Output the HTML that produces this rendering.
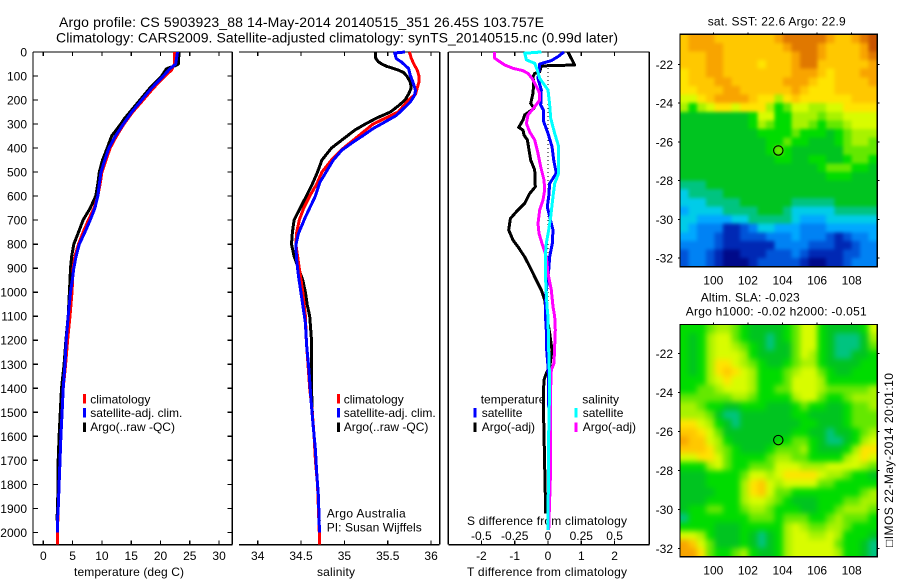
<!DOCTYPE html>
<html lang="en">
<head>
<meta charset="utf-8">
<title>Argo profile</title>
<style>
html,body{margin:0;padding:0;background:#fff;}
svg{display:block;}
text{font-family:"Liberation Sans",sans-serif;font-size:12px;fill:#000;}
.ttl{font-size:14px;}
</style>
</head>
<body>
<svg id="fig" xmlns="http://www.w3.org/2000/svg" width="900" height="580" viewBox="0 0 900 580">
<defs>
<filter id="soft-sst" x="-5%" y="-5%" width="110%" height="110%" color-interpolation-filters="sRGB">
<feGaussianBlur stdDeviation="1.8"/>
<feComponentTransfer><feFuncA type="linear" slope="60"/></feComponentTransfer>
</filter>
<filter id="soft-sla" x="-5%" y="-5%" width="110%" height="110%" color-interpolation-filters="sRGB">
<feGaussianBlur stdDeviation="3"/>
<feComponentTransfer><feFuncA type="linear" slope="60"/></feComponentTransfer>
</filter>
</defs>
<text class="ttl" x="59" y="27" textLength="485">Argo profile: CS 5903923_88 14-May-2014 20140515_351 26.45S 103.757E</text>
<text class="ttl" x="56" y="42.5" textLength="562">Climatology: CARS2009. Satellite-adjusted climatology: synTS_20140515.nc (0.99d later)</text>
<text x="74" y="576" textLength="110">temperature (deg C)</text>
<text x="317" y="576" textLength="38">salinity</text>
<text x="467" y="576" textLength="160">T difference from climatology</text>
<text x="467" y="525" textLength="160">S difference from climatology</text>
<text x="707.7" y="25.7" textLength="138">sat. SST: 22.6 Argo: 22.9</text>
<text x="700.7" y="301.7" textLength="99">Altim. SLA: -0.023</text>
<text x="685.7" y="315.7" textLength="181">Argo h1000: -0.02 h2000: -0.051</text>
<text transform="translate(893 547) rotate(-90)" x="0" y="0" textLength="174">□IMOS 22-May-2014 20:01:10</text>
<text x="326.7" y="517.7" textLength="79">Argo Australia</text>
<text x="326.7" y="531.7" textLength="95">PI: Susan Wijffels</text>
<g id="axes"></g>
<g id="marks"></g>
<g id="legends"></g>
</svg>
<script>
/* ---------- data ---------- */
const depthTicks = [0,100,200,300,400,500,600,700,800,900,1000,1100,1200,1300,1400,1500,1600,1700,1800,1900,2000];
const tempTicks = [0,5,10,15,20,25,30];
const salTicks = [34,34.5,35,35.5,36];
const salTickLabels = ['34','34.5','35','35.5','36'];
const dTTicks = [-2,-1,0,1,2];
const dSTicks = [-0.5,-0.25,0,0.25,0.5];
const dSTickLabels = ['-0.5','-0.25','0','0.25','0.5'];
const lonTicks = [100,102,104,106,108];
const latTicks = [-22,-24,-26,-28,-30,-32];

const tempBlueDepth = [0,50,70,100,150,200,250,300,350,400,450,500,550,600,650,700,750,800,850,900,950,1000,1100,1200,1300,1400,1500,1600,1700,1800,1900,1950,2000];
const tempBlue = [22.9,22.6,21.6,20.5,18.5,16.8,15.1,13.65,12.3,11.2,10.5,9.85,9.55,9.3,8.8,8.0,7.1,6.15,5.6,5.2,4.95,4.65,4.25,3.9,3.7,3.4,3.2,3.0,2.85,2.7,2.55,2.4,2.4];
const tempBlackDepth = [0,50,55,70,100,150,200,250,275,300,350,400,450,500,550,600,650,700,750,800,850,900,950,1000,1100,1200,1300,1400,1500,1600,1700,1800,1900,1950];
const tempBlack = [23.15,23.05,22.75,21.0,20.2,18.2,16.5,14.8,13.9,13.2,11.65,10.9,10.1,9.55,9.3,8.95,8,6.8,6,5.2,4.85,4.65,4.55,4.45,4.25,3.85,3.55,3.1,2.9,2.7,2.55,2.55,2.4,2.35];
const tempRedDepth = [0,50,75,100,150,200,250,300,350,400,450,500,550,600,650,700,750,800,850,900,1000,1100,1200,1300,1400,1500,1600,1700,1800,1900,2000,2050];
const tempRed = [22.35,22.35,21.9,20.75,18.8,17.05,15.25,13.75,12.5,11.4,10.7,10,9.7,9.3,8.65,7.7,6.8,6,5.4,5.1,4.9,4.55,4.15,3.8,3.4,3.2,3,2.85,2.7,2.55,2.4,2.4];

const salBlackDepth = [0,25,40,50,60,75,85,100,125,150,175,200,225,250,275,300,325,350,400,450,500,550,600,650,700,750,800,850,900,950,1000,1050,1100,1150,1200,1300,1400,1500,1600,1700,1800,1900,1950];
const salBlack = [35.36,35.36,35.39,35.43,35.49,35.62,35.68,35.72,35.76,35.77,35.74,35.70,35.62,35.53,35.37,35.24,35.12,35.03,34.85,34.74,34.69,34.63,34.56,34.49,34.42,34.40,34.39,34.42,34.47,34.52,34.55,34.57,34.60,34.61,34.62,34.62,34.62,34.63,34.65,34.67,34.69,34.70,34.71];
const salRedDepth = [0,25,50,75,100,125,150,175,200,250,300,350,400,450,500,550,600,650,700,750,800,850,900,950,1000,1100,1200,1300,1400,1500,1600,1700,1800,1900,2000,2050];
const salRed = [35.75,35.77,35.80,35.84,35.86,35.86,35.84,35.82,35.74,35.62,35.33,35.16,34.99,34.85,34.74,34.68,34.60,34.53,34.48,34.45,34.44,34.46,34.48,34.5,34.52,34.55,34.56,34.58,34.6,34.63,34.65,34.665,34.69,34.70,34.71,34.71];
const salBlueDepth = [0,4,28,42,69,97,125,160,180,208,236,264,291,319,347,375,409,451,493,541,604,687,756,805,867,930,1006,1128,1225,1322,1447,1558,1655,1752,1849,1974,2000];
const salBlue = [35.70,35.58,35.60,35.66,35.74,35.76,35.79,35.82,35.81,35.76,35.68,35.60,35.47,35.33,35.22,35.10,34.97,34.87,34.80,34.72,34.66,34.55,34.47,34.44,34.45,34.47,34.50,34.55,34.565,34.59,34.615,34.64,34.665,34.68,34.70,34.71,34.71];

const dTBlackDepth = [0,54,58,82,89,103,130,172,214,235,262,283,314,325,346,366,408,450,491,561,589,630,665,693,741,783,811,853,894,936,991,1032,1088,1171,1241,1310,1338,1366,1393,1532,1726,1921];
const dTBlack = [0.6,0.8,-0.2,-0.25,-0.4,-0.45,-0.43,-0.45,-0.52,-0.42,-0.7,-0.75,-0.88,-0.75,-0.72,-0.62,-0.57,-0.52,-0.40,-0.38,-0.55,-0.7,-0.95,-1.13,-1.18,-1.05,-0.9,-0.7,-0.55,-0.4,-0.2,-0.1,-0.05,0.05,0.12,0.05,-0.05,-0.12,-0.13,-0.13,-0.1,-0.07];
const dTBlueDepth = [0,19,36,50,75,110,158,221,241,290,339,394,450,505,547,602,644,686,741,797,852,908,991,1060,1088,1157,1241,1310,1380,1921];
const dTBlue = [0.48,0.3,0.1,-0.25,-0.27,-0.3,-0.2,-0.22,-0.14,-0.13,0,0.12,0.17,0.25,0.05,0.02,-0.02,0.05,0.15,0.13,0.05,0.02,-0.05,-0.08,-0.08,-0.05,-0.04,0,0.02,0.03];
const dSCyanDepth = [0,5,33,47,75,110,158,221,276,339,394,505,547,602,686,741,797,852,922,1060,1102,1241,1380,1588,1990];
const dSCyan = [-0.05,-0.175,-0.1625,-0.1,-0.08,-0.0625,0,0.0125,0.02,0.05,0.08,0.08,0.05,0.0375,0.02,0.005,-0.0125,-0.02,-0.02,-0.0075,0,0.005,0.0125,0.005,0];
const dSMagentaDepth = [0,26,40,54,68,78,89,110,130,172,200,228,262,297,333,366,422,478,533,574,616,658,714,755,797,852,922,991,1060,1102,1157,1296,1324,1393,1726,1990];
const dSMagenta = [-0.4,-0.4,-0.3625,-0.325,-0.2625,-0.1875,-0.15,-0.12,-0.1,-0.0625,-0.0625,-0.1,-0.15,-0.1625,-0.1375,-0.1,-0.075,-0.055,-0.03,-0.025,-0.0375,-0.0625,-0.075,-0.0675,-0.045,-0.0125,0,0.025,0.0375,0.05,0.055,0.045,0.025,0.02,0.02,0.005];

/* colour-scale level per map cell, north to south, west to east */
const sstLevels = [
[13,14,14,14,13,13,13,13,13,13,13,14,15,15,15,15,15,14,13,13,14,15,16],
[13,14,14,14,14,13,13,13,13,13,13,13,14,15,15,15,14,13,13,13,13,14,16],
[13,13,13,14,14,13,13,13,13,13,13,13,13,14,15,15,14,13,13,13,13,14,15],
[13,13,13,14,14,13,13,13,13,12,13,13,13,14,15,15,13,13,13,13,13,13,14],
[12,13,13,14,14,13,13,13,13,13,13,13,13,14,14,14,13,12,13,13,13,14,14],
[12,13,13,13,14,14,13,13,13,13,13,13,14,14,14,13,12,12,13,13,13,13,14],
[12,12,13,13,13,14,14,13,13,13,13,13,13,14,13,12,12,12,13,13,13,13,13],
[11,11,12,13,14,14,14,14,13,12,12,10,12,13,12,12,12,12,12,12,13,13,13],
[10,8,10,11,12,12,11,12,12,12,10,8,9,11,11,10,10,11,11,12,12,12,12],
[7,7,7,7,7,7,7,7,8,11,11,8,8,10,10,10,9,10,10,11,11,11,11],
[7,7,7,7,7,7,7,7,8,10,9,8,8,10,10,9,8,9,9,10,11,11,11],
[7,7,7,7,7,7,7,7,7,8,8,8,8,9,8,8,8,7,8,9,10,10,10],
[7,7,7,7,7,7,7,7,7,7,8,8,9,8,8,7,7,7,8,9,10,10,9],
[7,7,7,7,7,7,7,7,7,7,8,9,8,7,7,7,7,7,7,9,9,9,9],
[7,7,7,7,7,7,7,7,7,7,7,8,8,7,7,8,8,7,7,8,9,9,8],
[7,7,7,7,7,7,7,7,7,7,7,7,7,7,7,7,8,9,9,9,8,8,7],
[7,7,7,7,7,7,7,7,7,7,7,7,7,7,7,7,7,8,8,8,7,7,7],
[6,6,6,7,7,7,7,7,7,7,7,7,7,7,7,7,7,7,7,7,7,7,7],
[5,6,6,6,6,7,7,7,7,7,7,7,7,7,7,7,7,7,7,7,7,7,7],
[5,5,5,6,6,6,6,7,7,7,7,7,7,6,6,6,6,6,7,7,7,7,7],
[4,5,5,5,5,6,6,6,6,7,7,7,6,5,5,5,5,5,6,6,6,6,6],
[5,5,4,4,4,4,5,5,6,6,6,6,6,5,4,4,4,5,5,5,5,5,5],
[5,4,3,3,3,1,1,2,3,5,5,4,4,4,3,3,3,4,4,4,4,4,4],
[4,4,3,3,2,1,1,2,2,2,3,3,3,4,3,3,3,2,1,2,3,3,4],
[3,3,3,3,2,1,1,1,1,1,1,3,3,3,3,2,2,2,1,1,2,3,3],
[2,3,3,2,1,0,0,1,1,1,2,2,2,3,2,1,1,1,1,2,2,3,3],
[2,3,3,2,1,0,0,0,1,2,2,2,2,2,1,0,0,1,1,2,3,3,3]
];
const slaLevels = [
[8,8,8,9,10,10,9,8,7,7,7,7,8,9,11,11,8,7,7,7,7,8,11],
[8,7,8,10,11,11,9,8,7,7,6,7,8,9,11,11,8,7,6,6,6,7,10],
[8,7,8,10,11,11,10,9,8,7,6,7,7,9,11,11,8,7,6,6,6,7,9],
[8,7,8,10,11,11,11,10,8,7,7,7,7,9,11,10,8,7,6,6,7,7,8],
[8,7,8,10,12,12,11,10,9,8,7,7,8,9,10,10,8,7,7,7,7,8,8],
[8,7,8,10,12,13,12,11,10,8,8,8,9,10,11,11,9,8,7,7,8,8,8],
[8,8,8,10,11,12,11,11,10,8,8,8,9,11,11,11,10,8,8,8,8,8,8],
[8,8,9,9,10,11,11,11,10,8,8,9,9,11,11,11,10,9,9,9,9,9,10],
[9,9,9,9,9,9,10,10,9,8,8,8,8,10,11,11,9,8,8,9,10,10,10],
[10,10,9,8,8,7,7,8,8,8,7,7,7,8,9,8,8,7,7,8,9,9,10],
[10,10,10,9,7,6,6,7,7,7,7,7,7,8,8,7,7,7,7,8,9,9,9],
[12,12,11,10,8,7,6,7,7,7,7,7,7,7,8,8,7,7,7,8,9,9,9],
[13,13,12,11,9,7,7,7,7,7,7,7,7,8,8,7,7,6,7,7,8,9,10],
[14,13,13,11,10,8,7,7,7,7,7,8,8,9,9,8,7,6,6,7,8,10,11],
[13,13,13,12,10,9,8,7,7,7,8,9,9,9,10,8,7,7,7,8,10,12,12],
[11,11,12,12,11,9,8,8,8,8,9,10,10,9,9,8,8,8,8,10,11,12,11],
[8,8,8,10,11,9,8,8,9,9,9,11,11,11,10,10,10,11,11,11,11,10,9],
[7,7,7,8,8,8,8,9,11,11,10,11,12,12,12,12,11,10,10,9,8,8,7],
[7,7,7,8,8,8,8,10,12,13,11,10,11,11,11,11,9,9,8,8,8,8,8],
[7,7,7,7,8,8,8,10,12,13,11,9,9,8,8,8,8,8,8,8,8,9,10],
[7,7,7,8,8,8,8,10,11,11,10,9,8,7,7,7,8,8,8,9,9,10,10],
[7,8,8,9,9,8,8,9,10,10,9,8,8,8,7,7,8,8,9,10,10,10,9],
[6,8,8,8,8,8,8,8,9,9,9,8,9,9,9,8,8,9,10,9,9,9,8],
[8,8,8,8,7,7,7,8,8,8,8,8,10,11,10,9,9,10,10,9,8,8,8],
[11,11,10,8,7,7,7,8,7,6,7,8,10,11,11,10,10,11,10,8,8,8,7],
[14,13,11,9,7,7,7,8,7,6,7,8,10,11,11,11,11,11,9,8,8,7,6],
[14,14,12,9,8,8,9,10,8,7,7,8,10,11,11,11,11,11,10,8,8,7,6]
];
const floatLon = 103.757;
const floatLat = -26.45;

/* ---------- scales ---------- */
const yDepth = d => 52 + d * 0.2402;
const xTemp = t => 43.3 + t * 5.86;
const xSal = s => 257.7 + (s - 34) * 86.7;
const xDT = t => 548 + t * 33.3;
const xDS = s => 548 + s * 133.2;
const xLon = l => 713.3 + (l - 100) * 17.3;
const ySst = l => 64.3 + (-22 - l) * 19.37;
const ySla = l => 353.3 + (-22 - l) * 19.5;
const lonW = 98.08, lonStep = 11.4 / 23;
const sstN = -20.45, sstStep = 12 / 27;
const slaN = -20.53, slaStep = 11.9 / 27;

const palette = ['#000a8a','#0028b4','#0054d8','#0082f4','#00a8ff','#00cce8','#00c480','#00c420','#00dc00','#64e800','#a8f200','#d8fc00','#ffe400','#ffc800','#f8a400','#e07800','#c85400'];

const NS = 'http://www.w3.org/2000/svg';
const axes = document.getElementById('axes');
const marks = document.getElementById('marks');
const defs = document.querySelector('defs');
function mk(parent, tag, attrs, txt) {
  const el = document.createElementNS(NS, tag);
  for (const k in attrs) el.setAttribute(k, attrs[k]);
  if (txt !== undefined) el.textContent = txt;
  parent.appendChild(el);
  return el;
}
function segment(x1, y1, x2, y2) {
  const el = mk(axes, 'line', {x1, y1, x2, y2, stroke:'#000', 'stroke-width':1.2, 'shape-rendering':'crispEdges'});
  
  return el;
}
function label(x, y, anchor, txt) {
  const el = mk(axes, 'text', {x, y, 'text-anchor':anchor}, txt);
  
  return el;
}
function series(depths, values, xf, yf, color, width) {
  const pts = depths.map((d, i) => xf(values[i]).toFixed(1) + ',' + yf(d).toFixed(1)).join(' ');
  const el = mk(marks, 'polyline', {points:pts, fill:'none', stroke:color, 'stroke-width':width, 'shape-rendering':'crispEdges', 'stroke-linejoin':'round'});
  
  return el;
}

/* ---------- plot frames ---------- */
const T = 52, B = 544.7;
[[33,232.3,'temperature'],[239,439.7,'salinity'],[448.3,649.3,'difference']].forEach(function (p) {
  const top = segment(p[0], T, p[1], T);
  
  const bottom = segment(p[0], B, p[1], B);
  
  const right = segment(p[1], T, p[1], B);
  
  if (p[2] !== 'salinity') {
    const left = segment(p[0], T, p[0], B);
    
  }
});

/* depth axis */
depthTicks.forEach(function (d) {
  const y = yDepth(d);
  const a = segment(33, y, 38, y);
  
  const b = segment(227.3, y, 232.3, y);
  
  const t = label(27, y + 4.5, 'end', String(d));
  
});

function xAxis(ticks, labels, xf, baseline, prefix, withTop, withBottom) {
  ticks.forEach(function (v, i) {
    const x = xf(v);
    if (withTop) {
      const a = segment(x, T, x, T + 4);
      
    }
    if (withBottom) {
      const b = segment(x, B, x, B - 4);
      
    }
    const t = label(x, baseline, 'middle', labels[i]);
    
  });
}
xAxis(tempTicks, tempTicks.map(String), xTemp, 560, 'temperature', true, true);
xAxis(salTicks, salTickLabels, xSal, 560, 'salinity', true, true);
xAxis(dTTicks, dTTicks.map(String), xDT, 560, 't-difference', true, true);
xAxis(dSTicks, dSTickLabels, xDS, 540, 's-difference', false, false);

const zeroLine = mk(axes, 'line', {x1:xDT(0), y1:52, x2:xDT(0), y2:yDepth(1060), stroke:'#000', 'stroke-width':1, 'stroke-dasharray':'1 3', 'shape-rendering':'crispEdges'});



/* ---------- profile series ---------- */
const s1 = series(tempBlackDepth, tempBlack, xTemp, yDepth, '#000', 3);

const s2 = series(tempRedDepth, tempRed, xTemp, yDepth, '#f00', 3);

const s3 = series(tempBlueDepth, tempBlue, xTemp, yDepth, '#00f', 3);

const s4 = series(salBlackDepth, salBlack, xSal, yDepth, '#000', 3);

const s5 = series(salRedDepth, salRed, xSal, yDepth, '#f00', 3);

const s6 = series(salBlueDepth, salBlue, xSal, yDepth, '#00f', 3);

const s7 = series(dTBlackDepth, dTBlack, xDT, yDepth, '#000', 3);

const s8 = series(dTBlueDepth, dTBlue, xDT, yDepth, '#00f', 3);

const s9 = series(dSMagentaDepth, dSMagenta, xDS, yDepth, '#f0f', 3);

const s10 = series(dSCyanDepth, dSCyan, xDS, yDepth, '#0ff', 3);


/* ---------- maps ---------- */
function drawMap(levels, north, step, yf, name, filterId) {
  const top = yf(north), bottom = yf(north - levels.length * step);
  const left = xLon(lonW), right = xLon(lonW + levels[0].length * lonStep);
  const clip = mk(defs, 'clipPath', {id:name + '-clip'});
  mk(clip, 'rect', {x:left, y:top, width:right - left, height:bottom - top});
  const clipGroup = mk(marks, 'g', {'clip-path':'url(#' + name + '-clip)'});
  
  
  const cellGroup = mk(clipGroup, 'g', {filter:'url(#' + filterId + ')'});
  
  
  levels.forEach(function (row, r) {
    row.forEach(function (v, c) {
      const x0 = xLon(lonW + c * lonStep), x1 = xLon(lonW + (c + 1) * lonStep);
      const y0 = yf(north - r * step), y1 = yf(north - (r + 1) * step);
      const idx = Math.max(0, Math.min(palette.length - 1, Math.round(v)));
      const cell = mk(cellGroup, 'rect', {x:x0, y:y0, width:x1 - x0 + 0.3, height:y1 - y0 + 0.3, fill:palette[idx], 'shape-rendering':'crispEdges'});
      
      
    });
  });
  const frame = mk(marks, 'rect', {x:left, y:top, width:right - left, height:bottom - top, fill:'none', stroke:'#000', 'stroke-width':1.2, 'shape-rendering':'crispEdges'});
  
  
  lonTicks.forEach(function (l) {
    const x = xLon(l);
    const tk = mk(marks, 'line', {x1:x, y1:top - 2, x2:x, y2:top, stroke:'#000', 'stroke-width':1, 'shape-rendering':'crispEdges'});
    
    
    const lb = mk(marks, 'text', {x:x, y:bottom + 18, 'text-anchor':'middle'}, String(l));
    
    
  });
  latTicks.forEach(function (l) {
    const y = yf(l);
    const tl = mk(marks, 'line', {x1:left - 2, y1:y, x2:left, y2:y, stroke:'#000', 'stroke-width':1, 'shape-rendering':'crispEdges'});
    
    
    const tr = mk(marks, 'line', {x1:right, y1:y, x2:right + 2, y2:y, stroke:'#000', 'stroke-width':1, 'shape-rendering':'crispEdges'});
    
    
    const lb = mk(marks, 'text', {x:673, y:y + 4.5, 'text-anchor':'end'}, String(l));
    
    
  });
  const dot = mk(marks, 'circle', {cx:xLon(floatLon), cy:yf(floatLat), r:4.7, fill:'none', stroke:'#000', 'stroke-width':1.1});
  
  
}
drawMap(sstLevels, sstN, sstStep, ySst, 'sst-map', 'soft-sst');
drawMap(slaLevels, slaN, slaStep, ySla, 'sla-map', 'soft-sla');

/* ---------- legends ---------- */
const legends = document.getElementById('legends');
function swatch(x, y, color) {
  const el = mk(legends, 'rect', {x:x, y:y, width:3, height:9.5, fill:color, 'shape-rendering':'crispEdges'});
  
  return el;
}
function legendText(x, y, txt) {
  const el = mk(legends, 'text', {x:x, y:y}, txt);
  
  return el;
}
const legendRows = [['climatology','#f00',394,403.5],['satellite-adj. clim.','#00f',408,416.8],['Argo(..raw -QC)','#000',422.5,431]];
[[83,90.3],[337,343.7]].forEach(function (pos) {
  legendRows.forEach(function (row) {
    const sw = swatch(pos[0], row[2], row[1]);
    
    const tx = legendText(pos[1], row[3], row[0]);
    
  });
});
const h1 = legendText(480.7, 403.5, 'temperature');

const h2 = legendText(582.3, 403.5, 'salinity');

const diffRows = [['satellite',408,416.8,'#00f','#0ff'],['Argo(-adj)',422.5,431,'#000','#f0f']];
diffRows.forEach(function (row) {
  const a = swatch(473.5, row[1], row[3]);
  
  const at = legendText(481.7, row[2], row[0]);
  
  const b = swatch(574.7, row[1], row[4]);
  
  const bt = legendText(582.7, row[2], row[0]);
  
});
</script>
</body>
</html>
